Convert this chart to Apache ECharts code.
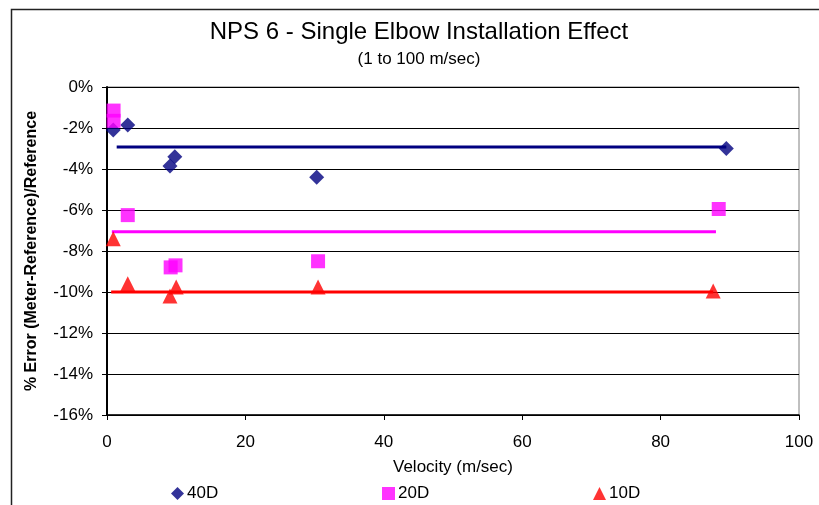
<!DOCTYPE html>
<html>
<head>
<meta charset="utf-8">
<script src="https://cdn.jsdelivr.net/npm/echarts@6/dist/echarts.min.js"></script>
<style>
  html, body { margin: 0; padding: 0; background: #fff; }
  #chart { width: 819px; height: 505px; }
</style>
</head>
<body>
<div id="chart"></div>
<script>
// velocity (m/sec) and % error for each upstream distance
var d40Vel = [0.9, 3.0, 9.1, 9.8, 30.3, 89.5];
var d40Err = [-2.1, -1.85, -3.85, -3.4, -4.4, -3.0];
var d20Vel = [0.95, 0.95, 3.0, 9.2, 9.9, 30.5, 88.4];
var d20Err = [-1.15, -1.65, -6.25, -8.8, -8.7, -8.5, -5.95];
var d10Vel = [0.9, 3.0, 9.1, 10.0, 30.5, 87.6];
var d10Err = [-7.4, -9.6, -10.2, -9.75, -9.75, -9.95];

// average lines (start, end velocity and level)
var avgVel = { d40: [1.4, 89.5], d20: [0.7, 88.0], d10: [0.6, 87.6] };
var avgErr = { d40: -2.93, d20: -7.06, d10: -10.0 };

var xTicks = [0, 20, 40, 60, 80, 100];
var yTicks = [0, -2, -4, -6, -8, -10, -12, -14, -16];

function pairs(xs, ys) {
  return xs.map(function (x, i) { return [x, ys[i]]; });
}
function flat(xs, y) {
  return xs.map(function (x) { return [x, y]; });
}

var chart = echarts.init(document.getElementById("chart"), null, { renderer: "canvas" });
var font = "Liberation Sans, Arial, sans-serif";

var option = {
  animation: false,
  backgroundColor: "#ffffff",
  textStyle: { fontFamily: font },
  title: [
    {
      text: "NPS 6 - Single Elbow Installation Effect",
      left: 414, textAlign: "center", top: 15,
      textStyle: { fontSize: 24, fontWeight: "normal", color: "#000", fontFamily: font }
    },
    {
      text: "(1 to 100 m/sec)",
      left: 414, textAlign: "center", top: 46,
      textStyle: { fontSize: 17, fontWeight: "normal", color: "#000", fontFamily: font }
    }
  ],
  graphic: [
    {
      type: "rect", left: 9, top: 7, silent: true,
      shape: { width: 900, height: 700 },
      style: { fill: "none", stroke: "#222", lineWidth: 1.5 }
    }
  ],
  legend: [
    { data: ["40D"], left: 171, top: 485, icon: "diamond" },
    { data: ["20D"], left: 382, top: 485, icon: "rect" },
    { data: ["10D"], left: 593, top: 485, icon: "triangle" }
  ].map(function (l) {
    l.itemWidth = 13; l.itemHeight = 13; l.padding = 0;
    l.textStyle = { fontSize: 17, color: "#000", fontFamily: font, padding: [0, 0, 0, -2] };
    return l;
  }),
  grid: {
    left: 107, right: 20, top: 87, bottom: 90,
    show: true, borderColor: "#808080", borderWidth: 1
  },
  xAxis: {
    type: "value", min: xTicks[0], max: xTicks[xTicks.length - 1], interval: 20,
    name: "Velocity (m/sec)", nameLocation: "middle", nameGap: 44,
    nameTextStyle: { fontSize: 17, color: "#000", fontFamily: font },
    axisLine: { onZero: false, lineStyle: { color: "#000", width: 1.5 } },
    axisTick: { show: true, length: 5, lineStyle: { color: "#000" } },
    axisLabel: { fontSize: 17, color: "#000", margin: 19, fontFamily: font },
    splitLine: { show: false }
  },
  yAxis: {
    type: "value", min: yTicks[yTicks.length - 1], max: yTicks[0], interval: 2,
    name: "% Error (Meter-Reference)/Reference", nameLocation: "middle", nameGap: 67,
    nameRotate: 90,
    nameTextStyle: { fontSize: 16, fontWeight: "bold", color: "#000", fontFamily: font },
    axisLine: { show: true, onZero: false, lineStyle: { color: "#000", width: 2 } },
    axisTick: { show: true, length: 5, lineStyle: { color: "#000" } },
    axisLabel: { fontSize: 17, color: "#000", margin: 14, formatter: "{value}%", fontFamily: font },
    splitLine: { show: true, lineStyle: { color: "#000", width: 1 } }
  },
  series: [
    {
      name: "40D avg", type: "line", data: flat(avgVel.d40, avgErr.d40),
      symbol: "none", lineStyle: { color: "#000080", width: 3 }, z: 2
    },
    {
      name: "20D avg", type: "line", data: flat(avgVel.d20, avgErr.d20),
      symbol: "none", lineStyle: { color: "#FF00FF", width: 3 }, z: 2
    },
    {
      name: "10D avg", type: "line", data: flat(avgVel.d10, avgErr.d10),
      symbol: "none", lineStyle: { color: "#FF0000", width: 3 }, z: 2
    },
    {
      name: "40D", type: "scatter", data: pairs(d40Vel, d40Err),
      symbol: "diamond", symbolSize: 15, itemStyle: { color: "#000080" }, z: 3
    },
    {
      name: "20D", type: "scatter", data: pairs(d20Vel, d20Err),
      symbol: "rect", symbolSize: 14, itemStyle: { color: "#FF00FF" }, z: 3
    },
    {
      name: "10D", type: "scatter", data: pairs(d10Vel, d10Err),
      symbol: "triangle", symbolSize: 15, itemStyle: { color: "#FF0000" }, z: 3
    }
  ]
};

chart.setOption(option);
</script>
</body>
</html>
